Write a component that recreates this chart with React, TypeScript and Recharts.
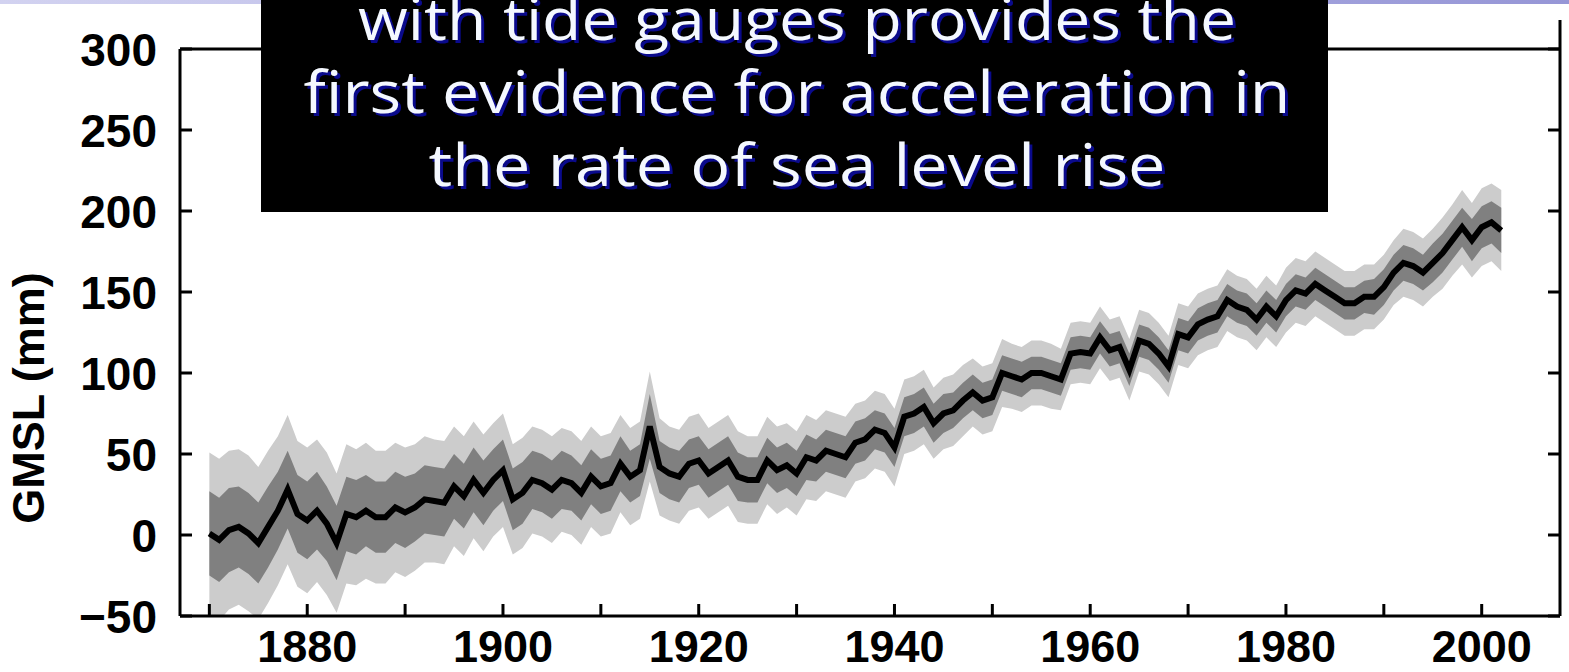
import React from "react";
import { ComposedChart, Area, Line, XAxis, YAxis } from "recharts";

// Global mean sea level reconstruction, annual values (mm), 1870-2002
const years: number[] = Array.from({ length: 133 }, (_, i) => 1870 + i);

const gmsl: number[] = [
  1, -3, 3, 5, 1, -5, 5, 15, 28, 13,
  9, 15, 7, -5, 13, 11, 15, 11, 11, 17,
  14, 17, 22, 21, 20, 30, 24, 34, 26, 34,
  40, 22, 26, 34, 32, 28, 34, 32, 26, 36,
  30, 32, 44, 36, 40, 67, 42, 38, 36, 44,
  46, 38, 42, 46, 36, 34, 34, 46, 40, 43,
  38, 48, 46, 52, 50, 48, 57, 59, 65, 63,
  54, 73, 75, 79, 69, 75, 77, 83, 88, 83,
  85, 100, 98, 96, 100, 100, 98, 96, 112, 113,
  112, 122, 114, 116, 102, 120, 118, 112, 104, 124,
  122, 130, 133, 135, 145, 141, 139, 133, 141, 135,
  145, 151, 149, 155, 151, 147, 143, 143, 147, 147,
  153, 162, 168, 166, 162, 168, 174, 182, 190, 182,
  190, 193, 188,
];

// half-width of the outer (light) uncertainty band, mm
const outerErr: number[] = [
  50, 50, 49, 48, 48, 47, 47, 46, 46, 45,
  45, 44, 44, 43, 43, 42, 42, 41, 41, 40,
  40, 39, 39, 38, 38, 37, 37, 36, 36, 35,
  35, 34, 34, 33, 33, 33, 32, 32, 32, 31,
  31, 31, 30, 30, 30, 34, 30, 29, 29, 29,
  29, 28, 28, 28, 28, 27, 27, 27, 27, 26,
  26, 26, 25, 25, 25, 25, 24, 24, 24, 24,
  24, 23, 23, 23, 22, 22, 22, 22, 21, 21,
  21, 21, 20, 20, 20, 20, 20, 19, 19, 19,
  19, 19, 19, 19, 19, 19, 19, 19, 19, 19,
  19, 19, 19, 19, 19, 19, 19, 19, 19, 19,
  20, 20, 20, 20, 20, 20, 20, 20, 20, 20,
  20, 20, 21, 21, 21, 21, 22, 22, 23, 23,
  24, 24, 25,
];

// half-width of the inner (dark) uncertainty band, mm
const innerErr: number[] = [
  26, 26, 26, 25, 25, 25, 25, 24, 24, 24,
  24, 24, 23, 23, 23, 23, 22, 22, 22, 22,
  22, 21, 21, 21, 21, 20, 20, 20, 20, 19,
  19, 19, 19, 18, 18, 18, 18, 17, 17, 17,
  17, 17, 17, 16, 16, 20, 16, 16, 16, 15,
  15, 15, 15, 15, 15, 14, 14, 14, 14, 14,
  14, 14, 13, 13, 13, 13, 13, 13, 12, 12,
  12, 12, 12, 12, 12, 12, 11, 11, 11, 11,
  11, 11, 11, 11, 10, 10, 10, 10, 10, 10,
  10, 10, 10, 10, 10, 10, 10, 10, 10, 10,
  10, 10, 10, 10, 10, 10, 10, 10, 10, 10,
  10, 10, 10, 10, 10, 10, 10, 10, 10, 11,
  11, 11, 11, 11, 11, 12, 12, 12, 12, 13,
  13, 13, 14,
];

const xTicks = [1870, 1880, 1890, 1900, 1910, 1920, 1930, 1940, 1950, 1960, 1970, 1980, 1990, 2000];
const yTicks = [-50, 0, 50, 100, 150, 200, 250, 300];

const titleLines = [
  "with tide gauges provides the",
  "first evidence for acceleration in",
  "the rate of sea level rise",
];

const data = years.map((year, i) => ({
  year,
  gmsl: gmsl[i],
  outer: [gmsl[i] - outerErr[i], gmsl[i] + outerErr[i]],
  inner: [gmsl[i] - innerErr[i], gmsl[i] + innerErr[i]],
}));

const FONT = "'Liberation Sans', Arial, Helvetica, sans-serif";
const TICK_LEN = 12;
const axisLine = { stroke: "#000", strokeWidth: 3 };

// ticks point into the plot; labels sit outside
function BottomTick({ x, y, payload }: any) {
  const v = payload.value as number;
  return (
    <g>
      <line x1={x} x2={x} y1={y} y2={y - TICK_LEN} stroke="#000" strokeWidth={3} />
      {v % 20 === 0 && (
        <text x={x} y={y + 46} textAnchor="middle" fontFamily={FONT} fontWeight={700} fontSize={45} fill="#000">
          {v}
        </text>
      )}
    </g>
  );
}

function TopTick({ x, y }: any) {
  return <line x1={x} x2={x} y1={y} y2={y + TICK_LEN} stroke="#000" strokeWidth={3} />;
}

function LeftTick({ x, y, payload }: any) {
  const v = payload.value as number;
  return (
    <g>
      <line x1={x} x2={x + TICK_LEN} y1={y} y2={y} stroke="#000" strokeWidth={3} />
      <text x={x - 23} y={y + 17} textAnchor="end" fontFamily={FONT} fontWeight={700} fontSize={46} fill="#000">
        {v < 0 ? "\u2212" + Math.abs(v) : v}
      </text>
    </g>
  );
}

function RightTick({ x, y }: any) {
  return <line x1={x} x2={x - TICK_LEN} y1={y} y2={y} stroke="#000" strokeWidth={3} />;
}

// title text: y baseline, drawn width
const titleLayout = [
  { y: 40, w: 878 },
  { y: 113, w: 987 },
  { y: 186, w: 737 },
];

export default function App() {
  return (
    <div style={{ position: "absolute", left: 0, top: 0, width: 1569, height: 672, background: "#fff", overflow: "hidden" }}>
      <div
        style={{
          position: "absolute",
          left: 0,
          top: 0,
          width: 1569,
          height: 4,
          background: "linear-gradient(to right, #d2d2f0, #b4b4e6 50%, #9696d6)",
        }}
      />
      <ComposedChart width={1569} height={672} data={data} margin={{ top: 0, right: 0, bottom: 0, left: 30 }}>
        <XAxis
          dataKey="year"
          type="number"
          domain={[1867, 2008]}
          ticks={xTicks}
          allowDataOverflow
          height={56}
          axisLine={axisLine}
          tickLine={false}
          tickSize={0}
          tickMargin={0}
          tick={<BottomTick />}
          interval={0}
        />
        <XAxis
          xAxisId="top"
          orientation="top"
          type="number"
          domain={[1867, 2008]}
          ticks={xTicks}
          allowDataOverflow
          height={49}
          axisLine={axisLine}
          tickLine={false}
          tickSize={0}
          tickMargin={0}
          tick={<TopTick />}
          interval={0}
        />
        <YAxis
          type="number"
          domain={[-50, 300]}
          ticks={yTicks}
          allowDataOverflow
          width={150}
          axisLine={axisLine}
          tickLine={false}
          tickSize={0}
          tickMargin={0}
          tick={<LeftTick />}
          interval={0}
          label={{
            content: () => (
              <text
                x={44}
                y={398}
                transform="rotate(-90 44 398)"
                textAnchor="middle"
                fontFamily={FONT}
                fontWeight={700}
                fontSize={45}
                fill="#000"
              >
                GMSL (mm)
              </text>
            ),
          }}
        />
        <YAxis
          yAxisId="right"
          orientation="right"
          type="number"
          domain={[-50, 300]}
          ticks={yTicks}
          allowDataOverflow
          width={9}
          axisLine={axisLine}
          tickLine={false}
          tickSize={0}
          tickMargin={0}
          tick={<RightTick />}
          interval={0}
        />
        <Area
          dataKey="outer"
          type="linear"
          stroke="none"
          fill="#cccccc"
          fillOpacity={1}
          isAnimationActive={false}
          dot={false}
          activeDot={false}
        />
        <Area
          dataKey="inner"
          type="linear"
          stroke="none"
          fill="#808080"
          fillOpacity={1}
          isAnimationActive={false}
          dot={false}
          activeDot={false}
        />
        <Line
          dataKey="gmsl"
          type="linear"
          stroke="#000"
          strokeWidth={6}
          dot={false}
          activeDot={false}
          isAnimationActive={false}
        />
      </ComposedChart>
      <svg width={1569} height={672} style={{ position: "absolute", left: 0, top: 0, pointerEvents: "none" }}>
        {/* right frame edge runs a little above the plot top */}
        <line x1={1560} x2={1560} y1={20} y2={49} stroke="#000" strokeWidth={3} />
        <rect x={261} y={0} width={1067} height={212} fill="#000" />
        {titleLines.map((line, i) => (
          <g key={line}>
            <text
              x={800}
              y={titleLayout[i].y + 3}
              textAnchor="middle"
              textLength={titleLayout[i].w}
              lengthAdjust="spacingAndGlyphs"
              fontFamily="'Comic Sans MS', 'Open Sans', sans-serif"
              fontSize={58}
              fill="#0a0a8c"
            >
              {line}
            </text>
            <text
              x={797}
              y={titleLayout[i].y}
              textAnchor="middle"
              textLength={titleLayout[i].w}
              lengthAdjust="spacingAndGlyphs"
              fontFamily="'Comic Sans MS', 'Open Sans', sans-serif"
              fontSize={58}
              fill="#f4f8ff"
            >
              {line}
            </text>
          </g>
        ))}
      </svg>
    </div>
  );
}
